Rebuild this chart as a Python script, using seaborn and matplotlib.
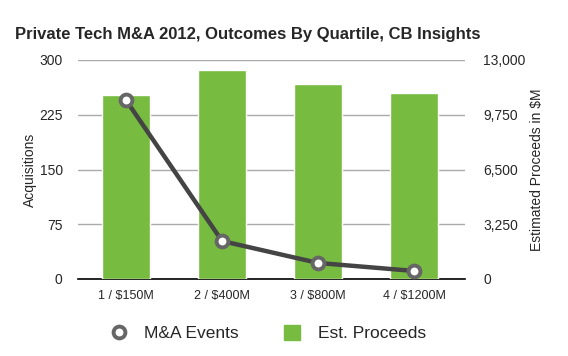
import matplotlib
matplotlib.use("Agg")
import matplotlib.pyplot as plt
import seaborn as sns
import pandas as pd
from matplotlib.ticker import FuncFormatter
from matplotlib.lines import Line2D
from matplotlib.patches import Patch

categories = ["1 / $150M", "2 / $400M", "3 / $800M", "4 / $1200M"]
acquisitions = [245, 52, 22, 11]
proceeds = [10900, 12400, 11580, 11040]
left_ticks = [0, 75, 150, 225, 300]
right_ticks = [0, 3250, 6500, 9750, 13000]

sns.set_theme(style="white")
plt.rcParams['font.family'] = ['Liberation Sans', 'DejaVu Sans']

df = pd.DataFrame({"cat": categories, "acq": acquisitions, "proc": proceeds})

fig = plt.figure(figsize=(5.68, 3.56), dpi=100)
ax = fig.add_axes([78/568, 1-279/356, (465-78)/568, (279-60)/356])
ax2 = ax.twinx()
ax3 = ax.twinx()

# bars on right axis
sns.barplot(data=df, x="cat", y="proc", ax=ax2, color="#77bb41", width=0.5,
            saturation=1, zorder=2)
ax2.set_ylim(0, 13000)
ax2.set_yticks(right_ticks)
ax2.yaxis.set_major_formatter(FuncFormatter(lambda v, p: f"{int(v):,}"))
ax2.set_ylabel("Estimated Proceeds in $M", fontsize=10, labelpad=3)
ax2.tick_params(axis="x", labelbottom=False, labeltop=False)

# gridlines on primary axis, behind bars
ax.set_ylim(0, 300)
ax.set_yticks(left_ticks)
ax.yaxis.grid(True, color="#aaaaaa", linewidth=1)
ax.set_axisbelow(True)
ax.set_ylabel("Acquisitions", fontsize=10, labelpad=1.5)

ax.set_zorder(0)
ax2.set_zorder(1)
ax3.set_zorder(2)
ax.patch.set_visible(False)
ax2.patch.set_visible(False)
ax3.patch.set_visible(False)

sns.lineplot(x=list(range(len(categories))), y=acquisitions, ax=ax3, color="#444444",
             linewidth=3.2, marker="o", markersize=8.5, markerfacecolor="white",
             markeredgecolor="#666666", markeredgewidth=2.8)
ax3.set_ylim(0, 300)
ax3.set_yticks([])
ax3.set_ylabel("")
ax3.tick_params(axis="x", labelbottom=False, labeltop=False)

for a in (ax, ax2, ax3):
    a.set_xlim(-0.5, 3.53)
    for s in a.spines.values():
        s.set_visible(False)
    a.tick_params(length=0)
ax.spines["bottom"].set_visible(True)
ax.spines["bottom"].set_color("black")
ax.spines["bottom"].set_linewidth(1.2)

ax.set_xticks(range(len(categories)))
ax.set_xticklabels(categories, fontsize=9)
ax.tick_params(axis="x", labelbottom=True, pad=8)
ax.set_xlabel("")
ax2.set_xlabel("")
ax3.set_xlabel("")

ax.yaxis.tick_left()
ax.yaxis.set_label_position("left")
ax2.yaxis.tick_right()
ax2.yaxis.set_label_position("right")
ax.tick_params(axis="y", labelsize=10, pad=11, length=0)
ax2.tick_params(axis="y", labelsize=10, pad=13, length=0)

fig.text(248/568, 1-34/356, "Private Tech M&A 2012, Outcomes By Quartile, CB Insights",
         ha="center", va="center", fontsize=12, fontweight="bold")

handles = [Line2D([0], [0], color="none", marker="o", markersize=8.5,
                  markerfacecolor="white", markeredgecolor="#666666", markeredgewidth=2.8),
           Patch(facecolor="#77bb41", edgecolor="#77bb41")]
fig.legend(handles, ["M&A Events", "Est. Proceeds"], loc="center",
           bbox_to_anchor=(0.472, 1-333/356), ncol=2, frameon=False,
           fontsize=12.5, columnspacing=2.6, handlelength=0.95, handleheight=1.0,
           handletextpad=1.0)

fig.savefig("out.png", dpi=100)
